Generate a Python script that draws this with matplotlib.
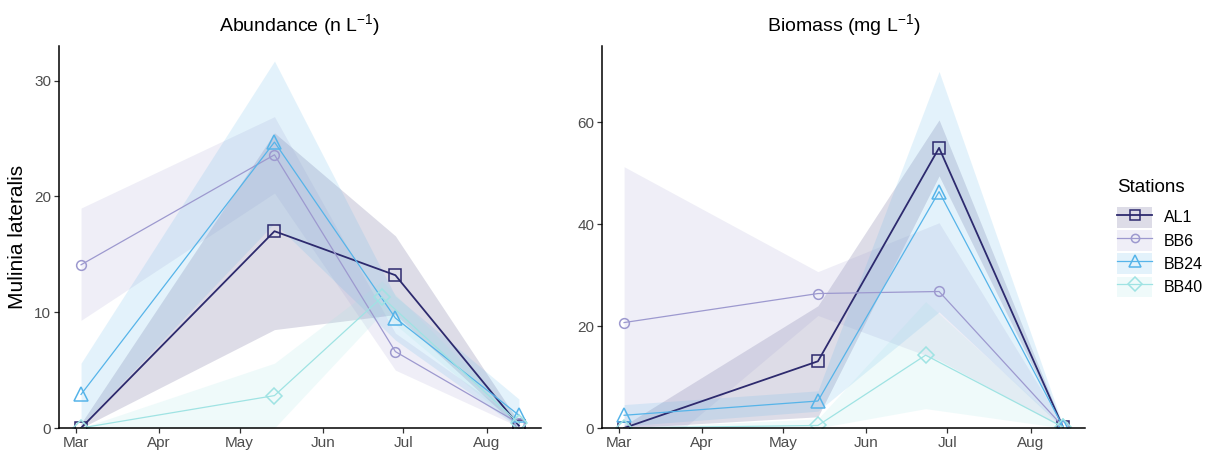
import pandas as pd
import matplotlib
matplotlib.use('Agg')
import matplotlib.pyplot as plt
import matplotlib.dates as mdates
from matplotlib.patches import Patch
from matplotlib.lines import Line2D

plt.rcParams['font.family'] = ['Liberation Sans', 'DejaVu Sans']
plt.rcParams['mathtext.fontset'] = 'custom'
plt.rcParams['mathtext.rm'] = 'Liberation Sans'
plt.rcParams['mathtext.it'] = 'Liberation Sans:italic'

# stations and sampling dates (BB40 sampled earlier in June)
stations = ['AL1', 'BB6', 'BB24', 'BB40']
dates_main = pd.to_datetime(['2021-03-03', '2021-05-14', '2021-06-28', '2021-08-13'])
dates_bb40 = pd.to_datetime(['2021-03-03', '2021-05-14', '2021-06-23', '2021-08-13'])

# abundance (n L-1): mean, lower, upper
abund_al1 = [0, 17.0, 13.2, 0.2]
abund_al1_lo = [0, 8.5, 9.8, 0]
abund_al1_hi = [0.4, 25.5, 16.6, 0.5]
abund_bb6 = [14.1, 23.6, 6.6, 0.4]
abund_bb6_lo = [9.3, 20.3, 5.0, 0.1]
abund_bb6_hi = [19.0, 26.9, 8.2, 0.7]
abund_bb24 = [2.9, 24.7, 9.5, 1.1]
abund_bb24_lo = [0.2, 17.7, 7.6, 0]
abund_bb24_hi = [5.6, 31.7, 11.4, 2.5]
abund_bb40 = [0, 2.8, 11.3, 0.4]
abund_bb40_lo = [0, 0, 9.9, 0]
abund_bb40_hi = [0, 5.6, 12.7, 0.8]

# biomass (mg L-1): mean, lower, upper
biom_al1 = [0, 13.1, 55.0, 0.2]
biom_al1_lo = [0, 2.2, 49.5, 0]
biom_al1_hi = [0.5, 24.0, 60.5, 0.4]
biom_bb6 = [20.7, 26.4, 26.8, 0.3]
biom_bb6_lo = [-9.9, 22.1, 13.3, 0]
biom_bb6_hi = [51.3, 30.7, 40.3, 0.6]
biom_bb24 = [2.5, 5.3, 46.4, 0.3]
biom_bb24_lo = [0.4, 3.3, 22.8, 0]
biom_bb24_hi = [4.6, 7.3, 70.0, 0.6]
biom_bb40 = [0, 0.5, 14.3, 0.2]
biom_bb40_lo = [0, 0, 3.8, 0]
biom_bb40_hi = [0, 1.8, 24.8, 0.4]

colors = {'AL1': '#2D2A6E', 'BB6': '#9D99CF', 'BB24': '#56B4E9', 'BB40': '#9FE3E3'}
markers = {'AL1': 's', 'BB6': 'o', 'BB24': '^', 'BB40': 'D'}
msizes = {'AL1': 8.5, 'BB6': 7, 'BB24': 10, 'BB40': 8}
lwidths = {'AL1': 1.3, 'BB6': 0.9, 'BB24': 0.9, 'BB40': 0.9}
ribbon_alpha = 0.16

abund = {
    'AL1': (abund_al1, abund_al1_lo, abund_al1_hi),
    'BB6': (abund_bb6, abund_bb6_lo, abund_bb6_hi),
    'BB24': (abund_bb24, abund_bb24_lo, abund_bb24_hi),
    'BB40': (abund_bb40, abund_bb40_lo, abund_bb40_hi),
}
biom = {
    'AL1': (biom_al1, biom_al1_lo, biom_al1_hi),
    'BB6': (biom_bb6, biom_bb6_lo, biom_bb6_hi),
    'BB24': (biom_bb24, biom_bb24_lo, biom_bb24_hi),
    'BB40': (biom_bb40, biom_bb40_lo, biom_bb40_hi),
}

fig = plt.figure(figsize=(12.11, 4.55), dpi=100)
ax1 = fig.add_axes([59 / 1211, 27 / 455, 482 / 1211, 382 / 455])
ax2 = fig.add_axes([602 / 1211, 27 / 455, 483 / 1211, 382 / 455])


def draw_panel(ax, data, title, ymax, yticks):
    for st in stations:
        x = dates_bb40 if st == 'BB40' else dates_main
        mean, lo, hi = data[st]
        ax.fill_between(x, lo, hi, color=colors[st], alpha=ribbon_alpha, lw=0)
    for st in stations:
        x = dates_bb40 if st == 'BB40' else dates_main
        mean = data[st][0]
        ax.plot(x, mean, color=colors[st], lw=lwidths[st], marker=markers[st],
                ms=msizes[st], mfc='none', mec=colors[st], mew=1.1)
    pad = pd.Timedelta(days=8.2)
    ax.set_xlim(dates_main[0] - pad, dates_main[-1] + pad)
    ax.set_ylim(0, ymax)
    ax.set_yticks(yticks)
    ax.xaxis.set_major_locator(mdates.MonthLocator())
    ax.xaxis.set_major_formatter(mdates.DateFormatter('%b'))
    for side in ['top', 'right']:
        ax.spines[side].set_visible(False)
    for side in ['left', 'bottom']:
        ax.spines[side].set_linewidth(1.1)
        ax.spines[side].set_color('black')
    ax.tick_params(direction='out', length=3.5, width=0.9, color='#333333',
                   labelcolor='#4D4D4D', labelsize=11, pad=2)
    ax.set_title(title, fontsize=14, pad=11)


draw_panel(ax1, abund, 'Abundance (n L$^{-1}$)', 33.0, [0, 10, 20, 30])
draw_panel(ax2, biom, 'Biomass (mg L$^{-1}$)', 75.0, [0, 20, 40, 60])
ax1.set_ylabel('Mulinia lateralis', fontsize=15, labelpad=5)

handles = []
for st in stations:
    patch = Patch(facecolor=colors[st], alpha=ribbon_alpha, edgecolor='none')
    line = Line2D([], [], color=colors[st], lw=lwidths[st], marker=markers[st],
                  ms=msizes[st] * 0.85, mfc='none', mec=colors[st], mew=1.1)
    handles.append((patch, line))

# legend title placed on its own to leave room above the keys
fig.text(1117 / 1211, 1 - 188 / 455, 'Stations', fontsize=13.5, va='center', ha='left')
fig.legend(handles, stations, loc='upper left',
           bbox_to_anchor=(1117 / 1211, 1 - 207 / 455), frameon=False,
           fontsize=11.5, handlelength=2.2, handleheight=1.6, labelspacing=0.17,
           handletextpad=0.75, borderaxespad=0, borderpad=0)

fig.savefig('out.png', dpi=100)
